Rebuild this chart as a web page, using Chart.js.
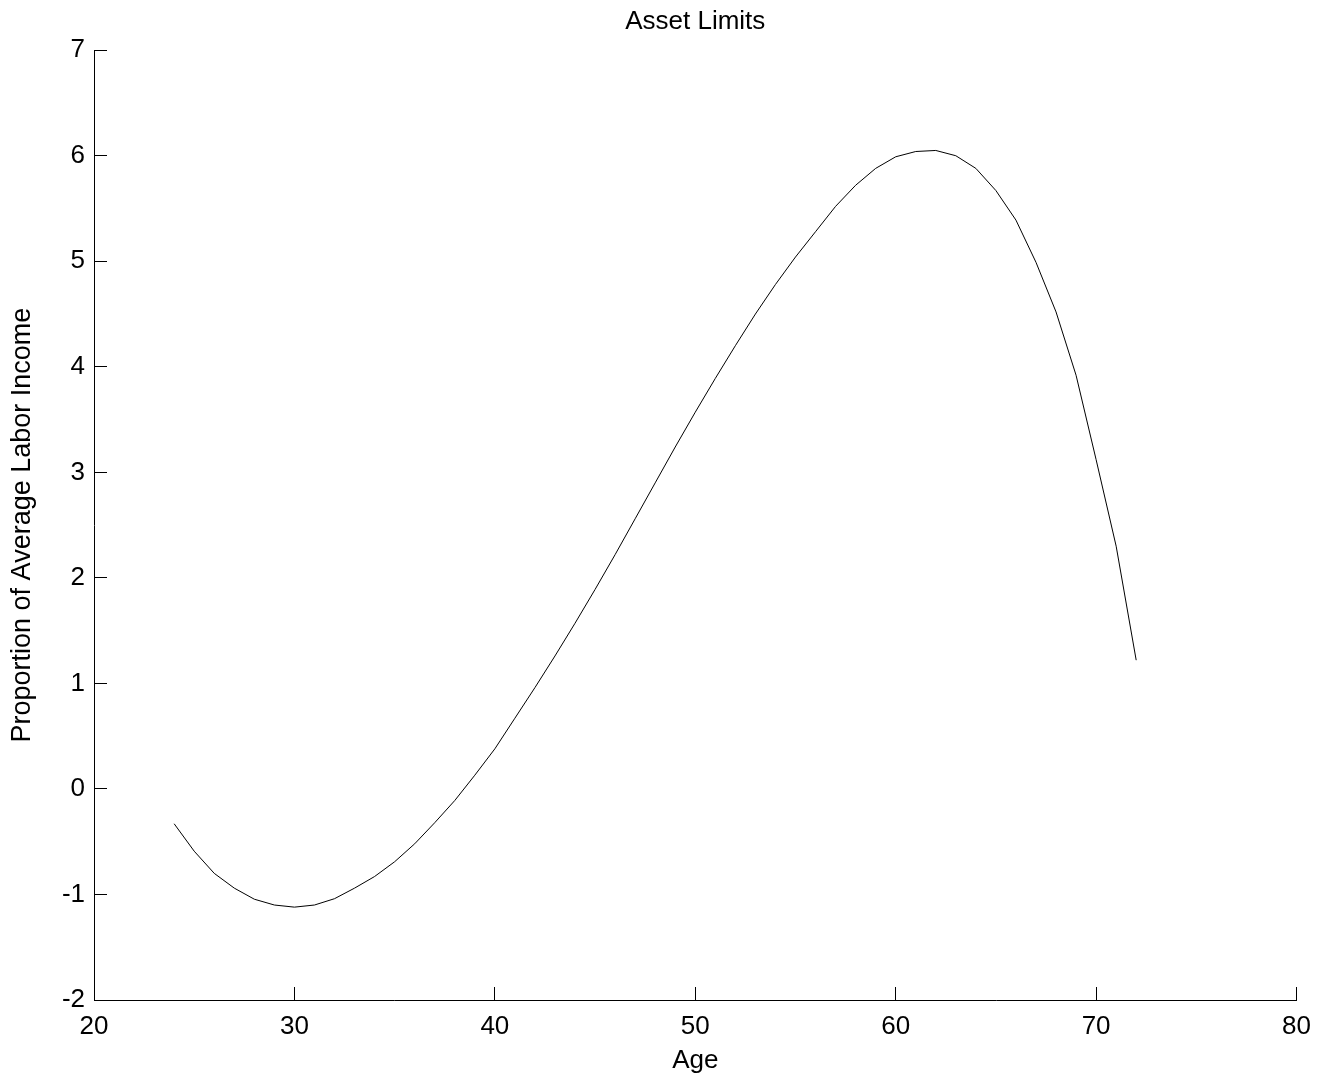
<!DOCTYPE html>
<html>
<head>
<meta charset="utf-8">
<script src="https://cdn.jsdelivr.net/npm/chart.js@4/dist/chart.umd.min.js"></script>
<style>
  html, body { margin: 0; padding: 0; background: #fff; }
  #wrap { width: 1335px; height: 1080px; }
</style>
</head>
<body>
<div id="wrap"><canvas id="assetChart" width="1335" height="1080"></canvas></div>
<script>
// ===== 資料 =====
const AGES = [24,25,26,27,28,29,30,31,32,33,34,35,36,37,38,39,40,41,42,43,44,45,46,47,48,
  49,50,51,52,53,54,55,56,57,58,59,60,61,62,63,64,65,66,67,68,69,70,71,72];
const LIMITS = [-0.33,-0.59,-0.80,-0.94,-1.045,-1.10,-1.12,-1.10,-1.04,-0.94,-0.83,-0.69,-0.52,-0.32,-0.11,0.13,
  0.38,0.67,0.96,1.26,1.57,1.89,2.22,2.56,2.90,3.24,3.57,3.89,4.20,4.50,4.78,5.04,5.28,5.52,5.72,5.88,
  5.99,6.04,6.05,6.00,5.88,5.67,5.39,4.99,4.52,3.92,3.12,2.30,1.22];
const X_TICKS = [20,30,40,50,60,70,80];
const Y_TICKS = [-2,-1,0,1,2,3,4,5,6,7];

const FONT = 'Liberation Sans, Arial, Helvetica, sans-serif';
Chart.defaults.font.family = FONT;
Chart.defaults.color = '#000';

const pts = AGES.map((a,i)=>({x:a, y:LIMITS[i]}));

// 刻度朝內（負的 tickLength）
const axisBase = (ticksArr, min, max, pad) => ({
  type:'linear', min, max,
  afterBuildTicks: s => { s.ticks = ticksArr.map(v=>({value:v})); },
  grid:{ display:true, drawOnChartArea:false, drawTicks:true, tickLength:-13, color:'#000', lineWidth:1 },
  border:{ display:true, color:'#000', width:1 },
  ticks:{ font:{size:26}, color:'#000', padding:pad, maxRotation:0, autoSkip:false }
});

const xAxis = axisBase(X_TICKS, 20, 80, 24);
xAxis.afterFit = s => { s.height = 80; };
xAxis.title = { display:true, text:'Age', font:{size:26}, color:'#000', padding:{top:0, bottom:4} };

const yAxis = axisBase(Y_TICKS, -2, 7, 22);
yAxis.afterFit = s => { s.width = 94; };
yAxis.title = { display:true, text:'Proportion of Average Labor Income', font:{size:27}, color:'#000', padding:{top:6, bottom:0} };

new Chart(document.getElementById('assetChart'), {
  type:'line',
  data:{ datasets:[{
    data:pts, borderColor:'#000', borderWidth:1, pointRadius:0, tension:0, fill:false
  }]},
  options:{
    responsive:false, animation:false,
    layout:{ padding:{ top:0, right:37, bottom:0, left:0 } },
    plugins:{
      legend:{ display:false }, tooltip:{ enabled:false },
      title:{ display:true, text:'Asset Limits', fullSize:false, font:{size:26, weight:'normal'}, color:'#000',
        padding:{ top:6, bottom:13 } }
    },
    scales:{ x:xAxis, y:yAxis }
  }
});
</script>
</body>
</html>
